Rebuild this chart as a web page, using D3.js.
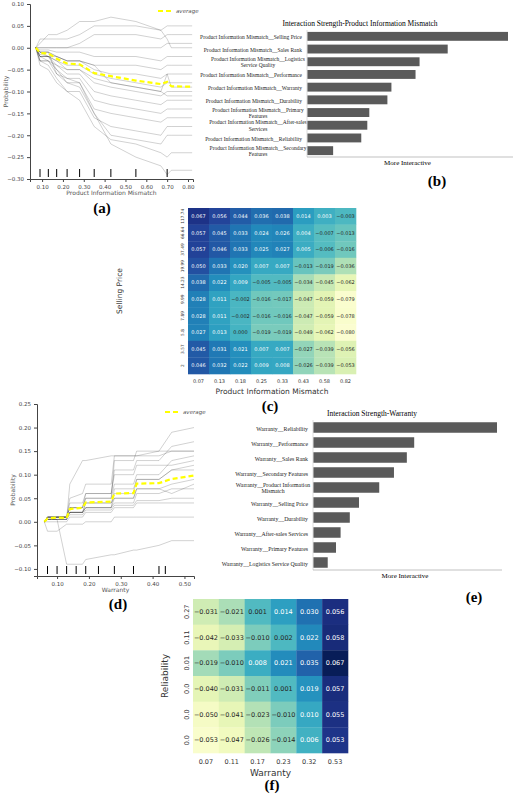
<!DOCTYPE html><html><head><meta charset="utf-8">
<script src="https://cdn.jsdelivr.net/npm/d3@7"></script>
<style>body{margin:0;background:#fff}</style></head><body>
<script>
// ---- Panel (a) ICE data ----
const xA=[0.07,0.09,0.13,0.17,0.22,0.28,0.35,0.43,0.55,0.67,0.70,0.72,0.82];
const avgA=[0,-0.012,-0.013,-0.025,-0.036,-0.038,-0.058,-0.065,-0.075,-0.083,-0.078,-0.088,-0.089];
const linesA=[
[0,0.02,0.02,0.02,0.02,0.03,0.05,0.05,0.05,0.04,0.05,0.05,0.05],
[0,0.0,0.0,0.0,0.0,0.01,0.03,0.03,0.03,0.02,0.03,0.03,0.03],
[0,0,0,0,0,0,0,0,0,0,0.01,0.01,0.01],
[0,-0.005,-0.005,-0.01,-0.01,-0.01,-0.02,-0.02,-0.02,-0.03,-0.02,-0.02,-0.02],
[0,-0.01,-0.01,-0.02,-0.03,-0.03,-0.04,-0.04,-0.04,-0.05,-0.04,-0.04,-0.04],
[0,-0.01,-0.01,-0.02,-0.03,-0.03,-0.05,-0.06,-0.06,-0.07,-0.06,-0.06,-0.06],
[0,-0.02,-0.02,-0.03,-0.04,-0.04,-0.06,-0.07,-0.08,-0.09,-0.08,-0.08,-0.08],
[0,-0.02,-0.02,-0.03,-0.05,-0.05,-0.08,-0.09,-0.10,-0.11,-0.10,-0.10,-0.10],
[0,-0.02,-0.03,-0.04,-0.06,-0.06,-0.10,-0.11,-0.12,-0.13,-0.12,-0.12,-0.12],
[0,-0.03,-0.03,-0.05,-0.07,-0.07,-0.12,-0.13,-0.14,-0.15,-0.14,-0.14,-0.14],
[0,-0.03,-0.03,-0.06,-0.08,-0.08,-0.14,-0.15,-0.16,-0.17,-0.16,-0.16,-0.16],
[0,-0.03,-0.04,-0.07,-0.10,-0.10,-0.16,-0.18,-0.19,-0.20,-0.18,-0.18,-0.18],
[0,-0.02,-0.02,-0.05,-0.08,-0.09,-0.15,-0.20,-0.21,-0.22,-0.20,-0.20,-0.20],
[0,0.01,0.03,0.03,0.04,0.06,0.06,0.07,0.06,0.04,0.02,0.0,0.0],
[0,-0.04,-0.05,-0.08,-0.10,-0.12,-0.18,-0.21,-0.22,-0.24,-0.25,-0.24,-0.24],
[0,-0.01,-0.01,-0.06,-0.07,-0.08,-0.15,-0.22,-0.25,-0.27,-0.29,-0.28,-0.28],
[0,-0.01,-0.02,-0.02,-0.03,-0.03,-0.04,-0.08,-0.09,-0.10,-0.06,-0.09,-0.09],
[0,-0.015,-0.02,-0.04,-0.05,-0.05,-0.07,-0.08,-0.09,-0.10,-0.11,-0.11,-0.11]];
const rugA=[0.09,0.13,0.17,0.22,0.28,0.35,0.43,0.55,0.70];
const ticksA=[0.10,0.20,0.30,0.40,0.50,0.60,0.70,0.80];
const yTicksA=[0.10,0.05,0.00,-0.05,-0.10,-0.15,-0.20,-0.25,-0.30];
// ---- Panel (d) ICE data ----
const xD=[0.06,0.07,0.10,0.13,0.14,0.18,0.19,0.27,0.28,0.34,0.35,0.42,0.46,0.53];
const avgD=[0,0.007,0.009,0.008,0.027,0.030,0.041,0.043,0.060,0.061,0.081,0.082,0.091,0.098];
const linesD=[
[0,0.01,0.01,0.01,0.03,0.03,0.05,0.05,0.13,0.13,0.15,0.15,0.19,0.20],
[0,0.01,0.01,0.01,0.04,0.04,0.06,0.06,0.11,0.11,0.13,0.13,0.16,0.17],
[0,0.01,0.01,0.01,0.03,0.03,0.05,0.05,0.08,0.08,0.10,0.10,0.13,0.14],
[0,0.005,0.01,0.01,0.02,0.02,0.04,0.04,0.06,0.06,0.09,0.09,0.11,0.12],
[0,0.005,0.005,0.005,0.02,0.02,0.03,0.03,0.05,0.05,0.07,0.07,0.08,0.09],
[0,0.005,0.005,0.005,0.02,0.02,0.03,0.03,0.04,0.04,0.06,0.06,0.07,0.07],
[0,0.005,0.005,0.005,0.015,0.015,0.025,0.025,0.035,0.035,0.045,0.045,0.05,0.05],
[0,0.0,0.0,0.0,0.01,0.01,0.02,0.02,0.03,0.03,0.04,0.04,0.04,0.04],
[0,0.01,0.01,0.01,0.05,0.06,0.08,0.08,0.14,0.14,0.14,0.14,0.15,0.15],
[0,0.01,0.01,0.01,0.03,0.03,0.06,0.06,0.10,0.10,0.12,0.12,0.12,0.13],
[0,-0.02,-0.02,-0.005,-0.005,-0.005,0,0,0.01,0.01,0.01,0.01,0.01,0.01],
[0,0.005,0.005,-0.09,-0.09,-0.09,-0.08,-0.07,-0.07,-0.06,-0.06,-0.05,-0.04,-0.04],
[0,0.005,0.005,0.005,0.08,0.13,0.13,0.14,0.14,0.14,0.14,0.15,0.15,0.15],
[0,0.01,0.01,0.01,0.02,0.02,0.03,0.03,0.07,0.07,0.09,0.09,0.11,0.11],
[0,0.01,0.01,0.01,0.02,0.02,0.04,0.04,0.05,0.05,0.07,0.07,0.06,0.08]];
const rugD=[0.07,0.10,0.13,0.16,0.19,0.23,0.28,0.34,0.42,0.44];
const ticksD=[0.10,0.20,0.30,0.40,0.50];
const yTicksD=[0.25,0.20,0.15,0.10,0.05,0.00,-0.05,-0.10];
// ---- Panel (b) bars ----
const catsB=["Product Information Mismatch__Selling Price","Product Information Mismatch__Sales Rank","Product Information Mismatch__Logistics|Service Quality","Product Information Mismatch__Performance","Product Information Mismatch__Warranty","Product Information Mismatch__Durability","Product Information Mismatch__Primary|Features","Product Information Mismatch__After-sales|Services","Product Information Mismatch__Reliability","Product Information Mismatch__Secondary|Features"];
const valsB=[1.0,0.70,0.56,0.54,0.42,0.40,0.31,0.30,0.27,0.13];
// ---- Panel (e) bars ----
const catsE=["Warranty__Reliability","Warranty__Performance","Warranty__Sales Rank","Warranty__Secondary Features","Warranty__Product Information|Mismatch","Warranty__Selling Price","Warranty__Durability","Warranty__After-sales Services","Warranty__Primary Features","Warranty__Logistics Service Quality"];
const valsE=[1.0,0.55,0.51,0.44,0.36,0.25,0.20,0.15,0.125,0.08];
// ---- Panel (c) heatmap ----
const colsC=["0.07","0.13","0.18","0.25","0.33","0.43","0.58","0.82"];
const rowsC=["117.74","66.64","37.49","19.99","14.23","9.99","7.89","5.8","3.57","2"];
const valsC=[
[0.067,0.056,0.044,0.036,0.038,0.014,0.003,-0.003],
[0.057,0.045,0.033,0.024,0.026,0.004,-0.007,-0.013],
[0.057,0.046,0.033,0.025,0.027,0.005,-0.006,-0.016],
[0.050,0.033,0.020,0.007,0.007,-0.013,-0.019,-0.036],
[0.038,0.022,0.009,-0.005,-0.005,-0.034,-0.045,-0.062],
[0.028,0.011,-0.002,-0.016,-0.017,-0.047,-0.059,-0.079],
[0.028,0.011,-0.002,-0.016,-0.016,-0.047,-0.059,-0.078],
[0.027,0.013,-0.000,-0.019,-0.019,-0.049,-0.062,-0.080],
[0.045,0.031,0.021,0.007,0.007,-0.027,-0.039,-0.056],
[0.046,0.032,0.022,0.009,0.008,-0.026,-0.039,-0.053]];
// ---- Panel (f) heatmap ----
const colsF=["0.07","0.11","0.17","0.23","0.32","0.53"];
const rowsF=["0.27","0.11","0.01","0.0","0.0","0.0"];
const valsF=[
[-0.031,-0.021,0.001,0.014,0.030,0.056],
[-0.042,-0.033,-0.010,0.002,0.022,0.058],
[-0.019,-0.010,0.008,0.021,0.035,0.067],
[-0.040,-0.031,-0.011,0.001,0.019,0.057],
[-0.050,-0.041,-0.023,-0.010,0.010,0.055],
[-0.053,-0.047,-0.026,-0.014,0.006,0.053]];

const SANS="DejaVu Sans, sans-serif", SERIF="Liberation Serif, serif";
const svg=d3.select("body").append("svg").attr("width",520).attr("height",797).style("font-family",SANS);

function ice(o){
  const g=svg.append("g");
  const x=d3.scaleLinear().domain(o.xd).range(o.xr), y=d3.scaleLinear().domain(o.yd).range(o.yr);
  const ln=d3.line().x((d,i)=>x(o.xs[i])).y(d=>y(d));
  o.lines.forEach(l=>g.append("path").attr("d",ln(l)).attr("fill","none").attr("stroke","#000").attr("stroke-opacity",0.3).attr("stroke-width",0.6));
  g.append("path").attr("d",ln(o.avg)).attr("fill","none").attr("stroke","#ffff00").attr("stroke-width",2.2).attr("stroke-dasharray","5,3");
  o.rug.forEach(r=>g.append("line").attr("x1",x(r)).attr("x2",x(r)).attr("y1",o.yr[0]-10).attr("y2",o.yr[0]-2).attr("stroke","#000").attr("stroke-width",1));
  const ax=g.append("g").attr("transform",`translate(0,${o.yr[0]})`).call(d3.axisBottom(x).tickValues(o.xt).tickFormat(d3.format(".2f")).tickSizeOuter(0).tickSize(3));
  const ay=g.append("g").attr("transform",`translate(${o.xr[0]},0)`).call(d3.axisLeft(y).tickValues(o.yt).tickFormat(d3.format(".2f")).tickSizeOuter(0).tickSize(3));
  [ax,ay].forEach(a=>{a.selectAll("text").attr("font-size",5.5).attr("fill","#444").style("font-family",SANS);a.select(".domain").attr("stroke","#444");a.selectAll("line").attr("stroke","#444")});
  g.append("text").attr("x",(o.xr[0]+o.xr[1])/2).attr("y",o.yr[0]+16).attr("text-anchor","middle").attr("font-size",6).attr("fill","#555").text(o.xl);
  g.append("text").attr("transform",`translate(${o.xr[0]-22},${(o.yr[0]+o.yr[1])/2}) rotate(-90)`).attr("text-anchor","middle").attr("font-size",6).attr("fill","#555").text("Probability");
  g.append("line").attr("x1",o.lg[0]).attr("x2",o.lg[0]+14).attr("y1",o.lg[1]).attr("y2",o.lg[1]).attr("stroke","#ffff00").attr("stroke-width",2.2).attr("stroke-dasharray","5,3");
  g.append("text").attr("x",o.lg[0]+18).attr("y",o.lg[1]+2).attr("font-size",5.5).attr("font-style","italic").attr("fill","#555").text("average");
}
ice({xs:xA,avg:avgA,lines:linesA,rug:rugA,xt:ticksA,yt:yTicksA,xd:[0.042,0.824],xr:[30,193],yd:[-0.30,0.10],yr:[179,4],xl:"Product Information Mismatch",lg:[158,11]});
ice({xs:xD,avg:avgD,lines:linesD,rug:rugD,xt:ticksD,yt:yTicksD,xd:[0.037,0.53],xr:[37,194],yd:[-0.115,0.25],yr:[576,404],xl:"Warranty",lg:[165,412]});

function bars(o){
  const g=svg.append("g").style("font-family",SERIF);
  const x=d3.scaleLinear().domain([0,1]).range([o.x0,o.x1]);
  const y=d3.scaleBand().domain(o.cats).range([o.y0,o.y1]).paddingInner(0.3).paddingOuter(0.15);
  g.selectAll("rect").data(o.vals).join("rect").attr("x",o.x0).attr("y",(d,i)=>y(o.cats[i])).attr("width",d=>x(d)-o.x0).attr("height",y.bandwidth()).attr("fill","#5a5a5a");
  o.cats.forEach(c=>{const parts=c.split("|");const cy=y(c)+y.bandwidth()/2+(parts.length>1?-1:3);
    const t=g.append("text").attr("font-size",o.fs).attr("fill","#222");
    if(parts.length>1){const cx=o.x0-5-o.w2/2;t.attr("text-anchor","middle");parts.forEach((p,k)=>t.append("tspan").attr("x",cx).attr("y",cy+k*6.5).text(p));}
    else t.attr("text-anchor","end").attr("x",o.x0-5).attr("y",cy).text(c);});
  g.append("line").attr("x1",o.x0).attr("x2",o.x0).attr("y1",o.y0).attr("y2",o.y1).attr("stroke","#ddd");
  g.append("line").attr("x1",o.x0).attr("x2",o.x1+5).attr("y1",o.y1).attr("y2",o.y1).attr("stroke","#999").attr("stroke-width",0.6);
  g.append("text").attr("x",(o.x0+o.x1)/2).attr("y",o.y1+8).attr("text-anchor","middle").attr("font-size",7).text("More Interactive");
  g.append("text").attr("x",o.tx).attr("y",o.y0-4).attr("text-anchor","middle").attr("font-size",7.5).text(o.title);
}
bars({cats:catsB,vals:valsB,x0:307,x1:508,y0:30,y1:157,fs:5.5,w2:88,tx:360,title:"Interaction Strength-Product Information Mismatch"});
bars({cats:catsE,vals:valsE,x0:313,x1:497,y0:420,y1:570,fs:5.8,w2:70,tx:372,title:"Interaction Strength-Warranty"});

function heat(o){
  const g=svg.append("g");
  const x=d3.scaleBand().domain(o.cols).range([o.x0,o.x1]);
  const y=d3.scaleBand().domain(d3.range(o.rows.length)).range([o.y0,o.y1]);
  const c=d3.scaleSequential(d3.interpolateYlGnBu).domain(o.dom);
  o.vals.forEach((r,i)=>r.forEach((v,j)=>{
    g.append("rect").attr("x",x(o.cols[j])).attr("y",y(i)).attr("width",x.bandwidth()+0.3).attr("height",y.bandwidth()+0.3).attr("fill",c(v));
    g.append("text").attr("x",x(o.cols[j])+x.bandwidth()/2).attr("y",y(i)+y.bandwidth()/2+o.fs/3).attr("text-anchor","middle").attr("font-size",o.fs)
     .attr("fill",(v-o.dom[0])/(o.dom[1]-o.dom[0])>0.5?"#fff":"#262626").text(d3.format(".3f")(v).replace("-","\u2212"));
  }));
  o.cols.forEach(cl=>g.append("text").attr("x",x(cl)+x.bandwidth()/2).attr("y",o.y1+o.fs+4).attr("text-anchor","middle").attr("font-size",o.fs).attr("fill","#333").text(cl));
  o.rows.forEach((rl,i)=>g.append("text").attr("transform",`translate(${o.x0-4},${y(i)+y.bandwidth()/2}) rotate(-90)`).attr("text-anchor","middle").attr("font-size",o.yfs).attr("fill","#333").text(rl));
  g.append("text").attr("x",(o.x0+o.x1)/2).attr("y",o.y1+o.xlo).attr("text-anchor","middle").attr("font-size",o.fs+2.5).attr("fill","#333").text(o.xl);
  g.append("text").attr("transform",`translate(${o.ylx},${(o.y0+o.y1)/2}) rotate(-90)`).attr("text-anchor","middle").attr("font-size",o.fs+2.5).attr("fill","#333").text(o.yl);
}
heat({cols:colsC,rows:rowsC,vals:valsC,dom:[-0.085,0.085],x0:188,x1:356,y0:208,y1:374,fs:5,yfs:4.3,xlo:20,ylx:122,xl:"Product Information Mismatch",yl:"Selling Price"});
heat({cols:colsF,rows:rowsF,vals:valsF,dom:[-0.058,0.067],x0:193,x1:348,y0:599,y1:753,fs:6.5,yfs:6.5,xlo:23,ylx:168,xl:"Warranty",yl:"Reliability"});

[["(a)",102,213],["(b)",437,186],["(c)",270,411],["(d)",118,609],["(e)",474,602],["(f)",272,790]].forEach(l=>
  svg.append("text").attr("x",l[1]).attr("y",l[2]).attr("text-anchor","middle").style("font-family",SERIF).attr("font-weight","bold").attr("font-size",15).text(l[0]));
</script></body></html>
